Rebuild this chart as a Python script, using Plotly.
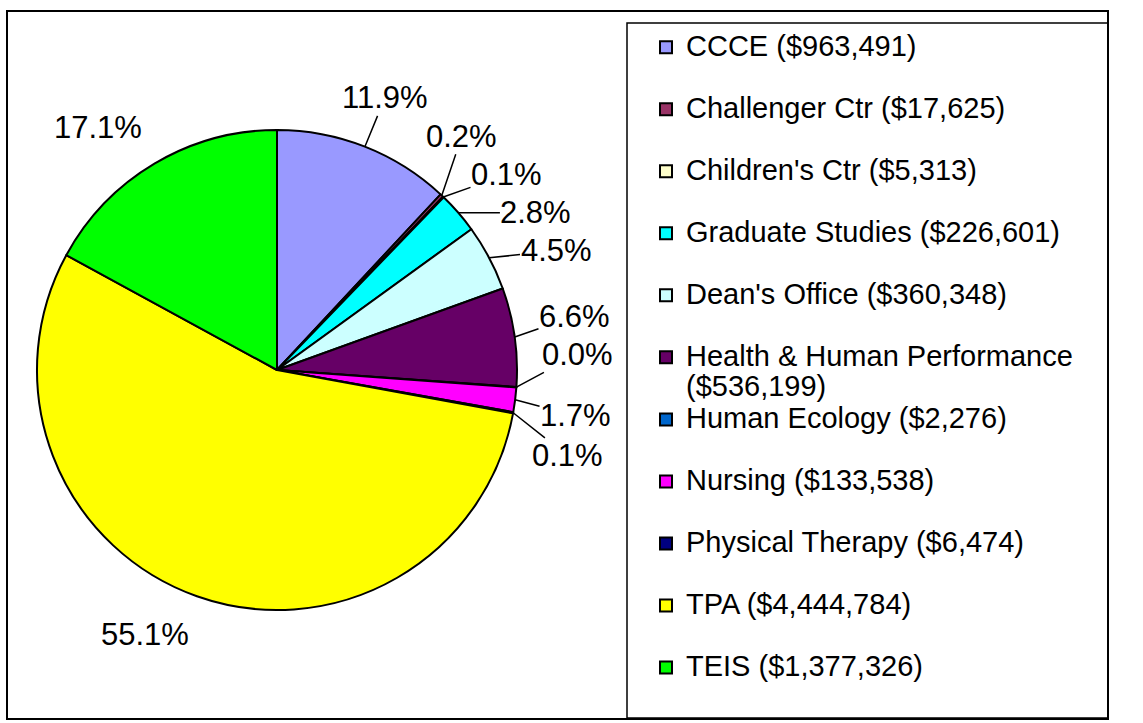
import math
import plotly.graph_objects as go

# ---- data ----
departments = ["CCCE", "Challenger Ctr", "Children's Ctr", "Graduate Studies",
               "Dean's Office", "Health & Human Performance", "Human Ecology",
               "Nursing", "Physical Therapy", "TPA", "TEIS"]
amounts = [963491, 17625, 5313, 226601, 360348, 536199, 2276, 133538, 6474,
           4444784, 1377326]
colors = ["#9999FF", "#993366", "#FFFFCC", "#00FFFF", "#CCFFFF", "#660066",
          "#0066CC", "#FF00FF", "#000080", "#FFFF00", "#00FF00"]

# ---- layout constants (pixels) ----
W, H = 1143, 723
FONT = "Arial, Liberation Sans, sans-serif"
TXT = 29         # legend text size
PCT = 31         # percent label size
LEG_BASE = 22.7  # legend base size (controls entry spacing)
PIE_L, PIE_R, PIE_T, PIE_B = 37, 517, 130, 610
cx, cy = (PIE_L + PIE_R) / 2, (PIE_T + PIE_B) / 2
r = min(PIE_R - PIE_L, PIE_B - PIE_T) / 2
GAP = 25
VSEP = 38

# ---- legend labels ----
legend_labels = []
for d, a in zip(departments, amounts):
    if d == "Health & Human Performance":
        lab = (f"<span style='font-size:{TXT}px'>{d}</span><br>"
               f"<span style='font-size:{TXT}px'>(${a:,})</span>")
    else:
        lab = f"<span style='font-size:{TXT}px'>{d} (${a:,})</span><br> "
    legend_labels.append(lab)

fig = go.Figure(go.Pie(
    labels=legend_labels,
    values=amounts,
    sort=False,
    direction="clockwise",
    rotation=0,
    marker=dict(colors=colors, line=dict(color="black", width=2)),
    textinfo="none",
    domain=dict(x=[PIE_L / W, PIE_R / W], y=[(H - PIE_B) / H, (H - PIE_T) / H]),
    hoverinfo="label+value+percent",
))

# ---- percent labels derived from the data (Excel-like outside labels) ----
total = sum(amounts)
shares = [a / total for a in amounts]
texts = [f"{s * 100:.1f}%" for s in shares]
cw = {"%": 0.889, ".": 0.278}
widths = [sum(cw.get(ch, 0.556) for ch in t) * PCT for t in texts]
hgt = 30

mids = []
acc = 0.0
for s in shares:
    mids.append(math.radians((acc + s / 2) * 360))
    acc += s


def center(phi, w):
    sx, sy = math.sin(phi), -math.cos(phi)
    ex, ey = cx + (r + GAP) * sx, cy + (r + GAP) * sy
    ox = w / 2 * (1 if sx >= 0 else -1)
    oy = hgt / 2 * (1 if sy >= 0 else -1)
    return ex + ox, ey + oy


phis = list(mids)
step = math.radians(0.25)
for _ in range(2000):
    moved = False
    for i in range(len(phis)):
        for j in range(i + 1, len(phis)):
            xi, yi = center(phis[i], widths[i])
            xj, yj = center(phis[j], widths[j])
            if (abs(xi - xj) < (widths[i] + widths[j]) / 2 + 2
                    and abs(yi - yj) < VSEP):
                phis[i] -= step
                phis[j] += step
                moved = True
    if not moved:
        break

annotations = []
for t, m, p, w in zip(texts, mids, phis, widths):
    lx, ly = center(p, w)
    if math.sin(m) > 0:
        ex, ey = cx + r * math.sin(m), cy - r * math.cos(m)
        annotations.append(dict(
            x=ex / W, y=1 - ey / H, xref="paper", yref="paper",
            ax=lx - ex, ay=ly - ey, axref="pixel", ayref="pixel",
            text=t, showarrow=True, arrowhead=0, arrowwidth=1.5,
            arrowcolor="black", standoff=0, borderpad=0,
            font=dict(family=FONT, size=PCT, color="black"),
        ))
    else:
        annotations.append(dict(
            x=lx / W, y=1 - ly / H, xref="paper", yref="paper",
            xanchor="center", yanchor="middle",
            text=t, showarrow=False,
            font=dict(family=FONT, size=PCT, color="black"),
        ))

fig.update_layout(
    width=W, height=H,
    margin=dict(l=0, r=0, t=0, b=0),
    paper_bgcolor="white",
    plot_bgcolor="white",
    font=dict(family=FONT, color="black"),
    legend=dict(
        x=646 / W, y=1 - 26 / H, xanchor="left", yanchor="top",
        font=dict(family=FONT, size=LEG_BASE, color="black"),
        valign="top",
        borderwidth=0,
        bgcolor="rgba(0,0,0,0)",
        tracegroupgap=0,
    ),
    annotations=annotations,
    shapes=[
        dict(type="rect", xref="paper", yref="paper",
             x0=7 / W, x1=1108 / W, y0=1 - 719 / H, y1=1 - 11 / H,
             line=dict(color="black", width=2)),
        dict(type="rect", xref="paper", yref="paper",
             x0=627 / W, x1=1108 / W, y0=1 - 718 / H, y1=1 - 23 / H,
             line=dict(color="black", width=1.5)),
    ],
)

fig.write_html("out.html", config={"displayModeBar": False},
               post_script="document.body.style.margin='0';document.body.style.overflow='hidden';")
